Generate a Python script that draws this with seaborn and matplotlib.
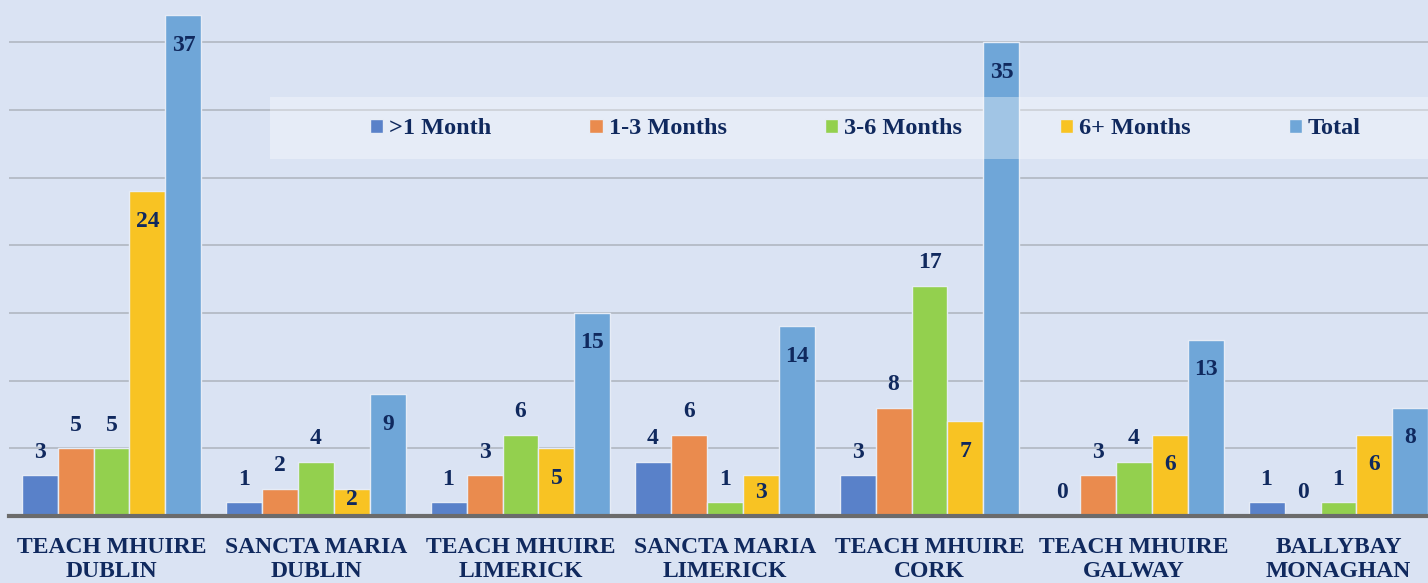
import matplotlib
matplotlib.use("Agg")
import matplotlib.pyplot as plt
from matplotlib.patches import Rectangle
import pandas as pd
import seaborn as sns

# data
sites = [
    "TEACH MHUIRE\nDUBLIN",
    "SANCTA MARIA\nDUBLIN",
    "TEACH MHUIRE\nLIMERICK",
    "SANCTA MARIA\nLIMERICK",
    "TEACH MHUIRE\nCORK",
    "TEACH MHUIRE\nGALWAY",
    "BALLYBAY\nMONAGHAN",
]
series = [">1 Month", "1-3 Months", "3-6 Months", "6+ Months", "Total"]
under_1 = [3, 1, 1, 4, 3, 0, 1]
m1_3 = [5, 2, 3, 6, 8, 3, 0]
m3_6 = [5, 4, 6, 1, 17, 4, 1]
m6_plus = [24, 2, 5, 3, 7, 6, 6]
total = [37, 9, 15, 14, 35, 13, 8]

colors = ["#5981c9", "#ea8b4e", "#93d04e", "#f8c323", "#6fa6d8"]
bg = "#dae3f3"
navy = "#10295e"

rows = []
for name, vals in zip(series, [under_1, m1_3, m3_6, m6_plus, total]):
    for site, v in zip(sites, vals):
        rows.append({"site": site, "period": name, "count": v})
df = pd.DataFrame(rows)

sns.set_style("white")
plt.rcParams["font.family"] = ["Liberation Serif", "DejaVu Serif"]
plt.rcParams["font.weight"] = "bold"

W, H = 1428, 583
YMAX = 40
AX_H = 541.6
fig = plt.figure(figsize=(W / 100, H / 100), dpi=100, facecolor=bg)
# axes spans slightly past the right edge, as in the original crop
ax = fig.add_axes([9.25 / W, 67 / H, 1431.5 / W, AX_H / H])
ax.set_facecolor(bg)

sns.barplot(
    data=df, x="site", y="count", hue="period", hue_order=series,
    palette=colors, saturation=1, width=0.88, edgecolor="#e6ecf6",
    linewidth=1, ax=ax, zorder=2,
)
ax.set_ylim(0, YMAX)
ax.set_yticks(range(0, YMAX, 5))
ax.set_yticklabels([])
ax.tick_params(axis="y", length=0)
ax.yaxis.grid(True, color="#adb3bd", linewidth=1.1, zorder=0)
ax.set_axisbelow(True)
ax.set_xlabel("")
ax.set_ylabel("")
for s in ["top", "left", "right"]:
    ax.spines[s].set_visible(False)
ax.spines["bottom"].set_color("#6b6b6b")
ax.spines["bottom"].set_linewidth(3)
ax.spines["bottom"].set_zorder(3)
ax.tick_params(axis="x", length=0, pad=15)
for lbl in ax.get_xticklabels():
    lbl.set_fontsize(17)
    lbl.set_fontweight("bold")
    lbl.set_color(navy)
    lbl.set_linespacing(1.18)

# value labels: first three series above the bar, the rest inside the top
px_per_unit = AX_H / YMAX
for i, cont in enumerate(ax.containers):
    anns = ax.bar_label(cont, fontsize=17, fontweight="bold", color=navy, zorder=6)
    for bar, ann in zip(cont, anns):
        h = bar.get_height() * px_per_unit
        if i < 3:
            off = 26
        else:
            off = max(h - 27, min(h - 8, 26)) - h
        ann.set_va("center")
        ann.xyann = (0, (off - 3) * 0.72)

# legend strip with a translucent box
handles, labels = ax.get_legend_handles_labels()
ax.get_legend().remove()
box = Rectangle((270 / W, 1 - 159 / H), (W - 270) / W + 0.05, 62 / H,
                transform=fig.transFigure, facecolor="white", alpha=0.35,
                edgecolor="none", zorder=4)
ax.add_patch(box)
box.set_clip_on(False)
leg = ax.legend(
    handles, labels, ncol=5, loc="center",
    bbox_to_anchor=(865.5 / W, 1 - 129 / H), bbox_transform=fig.transFigure,
    frameon=False, fontsize=17.5, handlelength=0.55, handleheight=0.55,
    handletextpad=0.25, columnspacing=4.02,
)
for t in leg.get_texts():
    t.set_color(navy)
    t.set_fontweight("bold")
leg.set_zorder(7)

fig.savefig("out.png", dpi=100, facecolor=bg)
